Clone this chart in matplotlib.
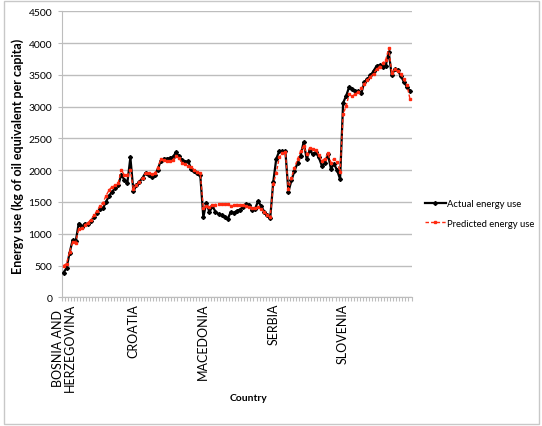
import numpy as np
import matplotlib
matplotlib.use("Agg")
import matplotlib.pyplot as plt
from matplotlib.patches import Rectangle
from matplotlib.lines import Line2D

plt.rcParams['font.family'] = ['Lato', 'DejaVu Sans']

# Countries (23 yearly observations each)
countries = ["BOSNIA AND\nHERZEGOVINA", "CROATIA", "MACEDONIA", "SERBIA", "SLOVENIA"]

# Actual energy use (kg of oil equivalent per capita)
actual_bih = [390, 460, 700, 900, 880, 1160, 1110, 1160, 1150, 1200, 1260, 1330,
              1390, 1400, 1500, 1600, 1660, 1720, 1760, 1930, 1850, 1800, 2200]
actual_hrv = [1670, 1760, 1820, 1880, 1960, 1920, 1900, 1930, 2010, 2150, 2180, 2180,
              2190, 2210, 2280, 2220, 2160, 2130, 2140, 2020, 1980, 1950, 1920]
actual_mkd = [1260, 1490, 1340, 1430, 1350, 1310, 1290, 1260, 1230, 1340, 1330, 1360,
              1380, 1420, 1470, 1460, 1380, 1390, 1510, 1440, 1350, 1300, 1240]
actual_srb = [1810, 2180, 2300, 2300, 2300, 1660, 1840, 1990, 2110, 2230, 2440, 2180,
              2310, 2250, 2280, 2200, 2070, 2120, 2250, 2020, 2100, 2000, 1860]
actual_svn = [3060, 3170, 3310, 3270, 3250, 3240, 3210, 3390, 3430, 3490, 3560, 3640,
              3650, 3630, 3640, 3860, 3490, 3590, 3570, 3480, 3390, 3310, 3240]

# Predicted energy use
pred_bih = [500, 530, 720, 870, 860, 1080, 1090, 1140, 1170, 1220, 1290, 1360,
            1440, 1490, 1600, 1690, 1740, 1760, 1800, 2010, 1920, 1920, 2000]
pred_hrv = [1700, 1770, 1820, 1880, 1960, 1960, 1940, 1950, 2040, 2170, 2160, 2150,
            2150, 2160, 2230, 2190, 2120, 2090, 2070, 2050, 2000, 1970, 1950]
pred_mkd = [1400, 1440, 1420, 1450, 1460, 1470, 1470, 1470, 1470, 1440, 1450, 1460,
            1460, 1450, 1440, 1420, 1410, 1400, 1420, 1390, 1350, 1300, 1260]
pred_srb = [1780, 1960, 2200, 2270, 2280, 1700, 1880, 2040, 2170, 2300, 2380, 2250,
            2350, 2330, 2320, 2240, 2150, 2180, 2270, 2120, 2180, 2130, 1970]
pred_svn = [2880, 3010, 3200, 3160, 3200, 3230, 3290, 3350, 3420, 3470, 3520, 3590,
            3630, 3680, 3730, 3920, 3530, 3590, 3560, 3510, 3430, 3340, 3120]

actual = actual_bih + actual_hrv + actual_mkd + actual_srb + actual_svn
predicted = pred_bih + pred_hrv + pred_mkd + pred_srb + pred_svn
n_per = len(actual_bih)
x = np.arange(len(actual))

fig = plt.figure(figsize=(5.42, 4.27), dpi=100)
ax = fig.add_axes([62 / 542, 1 - 298.3 / 427, 349.5 / 542, 286 / 427])

red = "#ff2a10"
ax.plot(x, actual, color="black", lw=1.6, marker="D", ms=2.0, zorder=3)
ax.plot(x, predicted, color=red, lw=1.0, ls=(0, (2.5, 1.5)), marker="s", ms=1.6,
        zorder=4)

ax.set_xlim(-0.5, len(actual) - 0.5)
ax.set_ylim(0, 4500)
ax.set_yticks(np.arange(0, 4501, 500))
ax.grid(axis="y", color="#bdbdbd", lw=1)
ax.set_axisbelow(True)

ax.set_xticks(np.arange(0, len(actual), n_per))
ax.set_xticklabels(countries, rotation=90, va="top", ha="center", fontsize=9,
                   linespacing=1.0)
ax.set_xticks(np.arange(-0.5, len(actual), 1), minor=True)
ax.tick_params(axis="x", which="major", length=0, pad=4)
ax.tick_params(axis="x", which="minor", length=3, color="#bdbdbd", width=0.8)
ax.tick_params(axis="y", length=3, color="#bdbdbd", labelsize=7.5, pad=4)

for s in ["top", "right"]:
    ax.spines[s].set_visible(False)
ax.spines["left"].set_color("#bdbdbd")
ax.spines["bottom"].set_color("#bdbdbd")

fig.text(18 / 542, 1 - 156 / 427, "Energy use (kg of oil equivalent per capita)",
         fontsize=9, fontweight="bold", rotation=90, ha="center", va="center")
fig.text(248 / 542, 1 - 399 / 427, "Country", fontsize=7.5, fontweight="bold",
         ha="center", va="center")

handles = [Line2D([], [], color="black", lw=1.6, marker="D", ms=2.0),
           Line2D([], [], color=red, lw=1.0, ls=(0, (2.5, 1.5)), marker="s", ms=1.6)]
fig.legend(handles, ["Actual energy use", "Predicted energy use"], loc="center left",
           bbox_to_anchor=(425 / 542, 1 - 214.5 / 427), frameon=False, fontsize=6.8,
           handlelength=2.2, handletextpad=0.1, labelspacing=1.1,
           borderpad=0, borderaxespad=0)

fig.patches.append(Rectangle((4 / 542, 2 / 427), 535 / 542, 423 / 427, fill=False,
                             edgecolor="#c8c8c8", lw=1, transform=fig.transFigure))

fig.savefig("out.png", dpi=100)
